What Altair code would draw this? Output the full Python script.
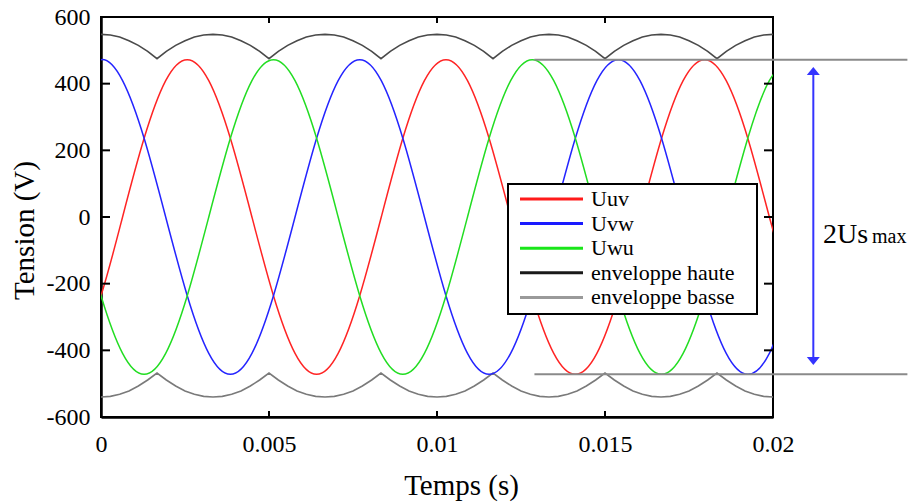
import altair as alt
import pandas as pd

# ---------------- data ----------------
# three line voltages, read every 30 deg of their ~0.0077 s period
t_sine = [-0.000642, 0.0, 0.000642, 0.001283, 0.001925, 0.002567, 0.003208, 0.00385,
          0.004492, 0.005133, 0.005775, 0.006417, 0.007058, 0.0077, 0.008342, 0.008983,
          0.009625, 0.010267, 0.010908, 0.01155, 0.012192, 0.012833, 0.013475, 0.014117,
          0.014758, 0.0154, 0.016042, 0.016683, 0.017325, 0.017967, 0.018608, 0.01925,
          0.019892, 0.020533]
uuv = [-409, -236, 0, 236, 409, 472, 409, 236, 0, -236, -409, -472, -409, -236, 0, 236, 409,
       472, 409, 236, 0, -236, -409, -472, -409, -236, 0, 236, 409, 472, 409, 236, 0, -236]
uvw = [409, 472, 409, 236, 0, -236, -409, -472, -409, -236, 0, 236, 409, 472, 409, 236, 0,
       -236, -409, -472, -409, -236, 0, 236, 409, 472, 409, 236, 0, -236, -409, -472, -409, -236]
uwu = [0, -236, -409, -472, -409, -236, 0, 236, 409, 472, 409, 236, 0, -236, -409, -472, -409,
       -236, 0, 236, 409, 472, 409, 236, 0, -236, -409, -472, -409, -236, 0, 236, 409, 472]

# envelopes
t_env = [0.0, 0.000278, 0.000556, 0.000833, 0.001111, 0.001389, 0.001667, 0.001944, 0.002222,
         0.0025, 0.002778, 0.003056, 0.003333, 0.003611, 0.003889, 0.004167, 0.004444,
         0.004722, 0.005, 0.005278, 0.005556, 0.005833, 0.006111, 0.006389, 0.006667,
         0.006944, 0.007222, 0.0075, 0.007778, 0.008056, 0.008333, 0.008611, 0.008889,
         0.009167, 0.009444, 0.009722, 0.01, 0.010278, 0.010556, 0.010833, 0.011111,
         0.011389, 0.011667, 0.011944, 0.012222, 0.0125, 0.012778, 0.013056, 0.013333,
         0.013611, 0.013889, 0.014167, 0.014444, 0.014722, 0.015, 0.015278, 0.015556,
         0.015833, 0.016111, 0.016389, 0.016667, 0.016944, 0.017222, 0.0175, 0.017778,
         0.018056, 0.018333, 0.018611, 0.018889, 0.019167, 0.019444, 0.019722, 0.02]
env_haute = [548, 546, 540, 529, 515, 497, 475, 497, 515, 529, 540, 546,
             548, 546, 540, 529, 515, 497, 475, 497, 515, 529, 540, 546,
             548, 546, 540, 529, 515, 497, 475, 497, 515, 529, 540, 546,
             548, 546, 540, 529, 515, 497, 475, 497, 515, 529, 540, 546,
             548, 546, 540, 529, 515, 497, 475, 497, 515, 529, 540, 546,
             548, 546, 540, 529, 515, 497, 475, 497, 515, 529, 540, 546,
             548]
env_basse = [-540, -538, -532, -522, -507, -489, -468, -489, -507, -522, -532, -538,
             -540, -538, -532, -522, -507, -489, -468, -489, -507, -522, -532, -538,
             -540, -538, -532, -522, -507, -489, -468, -489, -507, -522, -532, -538,
             -540, -538, -532, -522, -507, -489, -468, -489, -507, -522, -532, -538,
             -540, -538, -532, -522, -507, -489, -468, -489, -507, -522, -532, -538,
             -540, -538, -532, -522, -507, -489, -468, -489, -507, -522, -532, -538,
             -540]

series_names = ["Uuv", "Uvw", "Uwu", "enveloppe haute", "enveloppe basse"]
line_colors = ["#ff2424", "#2424ff", "#22dd22", "#4a4a4a", "#7a7a7a"]
legend_colors = ["#ff1a1a", "#1a1aff", "#1ae61a", "#1a1a1a", "#9a9a9a"]

x_ticks = [0, 0.005, 0.01, 0.015, 0.02]
y_ticks = [-600, -400, -200, 0, 200, 400, 600]

# "2Us max" annotation: peak levels, extent of the guide lines, arrow position
peak_levels = [472, -472]
guide_start, guide_end = 0.0129, 0.024
arrow_t = 0.0212
arrow_top, arrow_bottom = 438, -432

# ---------------- chart ----------------
W, H = 672, 400
SERIF = "Liberation Serif"

xscale = alt.Scale(domain=[0, 0.02], nice=False, zero=False)
yscale = alt.Scale(domain=[-600, 600], nice=False, zero=False)

x_axis = alt.Axis(values=x_ticks, format="~g", ticks=False, tickSize=0, grid=False,
                  domainColor="black", domainWidth=2.5, labelFont=SERIF, labelFontSize=24,
                  labelColor="black", labelPadding=15, labelFlush=False, labelOverlap=False,
                  title="Temps (s)", titleFont=SERIF, titleFontSize=29,
                  titleFontWeight="normal", titleColor="black", titleX=360, titleY=77,
                  titleBaseline="alphabetic", titleAlign="center")
y_axis = alt.Axis(values=y_ticks, ticks=False, tickSize=0, grid=False,
                  domainColor="black", domainWidth=2.5, labelFont=SERIF, labelFontSize=24,
                  labelColor="black", labelPadding=11, labelFlush=False, labelOverlap=False,
                  labelExpr="datum.value < 0 ? '-' + (-datum.value) : '' + datum.value",
                  title="Tension (V)", titleFont=SERIF, titleFontSize=29,
                  titleFontWeight="normal", titleColor="black", titleAngle=270,
                  titleX=-68, titleY=213, titleBaseline="alphabetic", titleAlign="center")


def X(field="t"):
    return alt.X(f"{field}:Q", scale=xscale, axis=x_axis)


def Y(field="v"):
    return alt.Y(f"{field}:Q", scale=yscale, axis=y_axis)


color_scale = alt.Scale(domain=series_names, range=line_colors)

sine_df = pd.concat([
    pd.DataFrame({"t": t_sine, "v": vals, "serie": name})
    for name, vals in zip(series_names[:3], [uuv, uvw, uwu])
])
env_df = pd.concat([
    pd.DataFrame({"t": t_env, "v": vals, "serie": name})
    for name, vals in zip(series_names[3:], [env_haute, env_basse])
])

envelopes = alt.Chart(env_df).mark_line(strokeWidth=1.6, clip=True).encode(
    x=X(), y=Y(), color=alt.Color("serie:N", scale=color_scale, legend=None),
    detail="serie:N")
sines = alt.Chart(sine_df).mark_line(strokeWidth=1.5, interpolate="natural", clip=True).encode(
    x=X(), y=Y(), color=alt.Color("serie:N", scale=color_scale, legend=None),
    detail="serie:N")

# inward ticks on the four sides of the frame
yt = pd.DataFrame({"v": y_ticks})
xt = pd.DataFrame({"t": x_ticks})
left_ticks = alt.Chart(yt).mark_rule(color="black", strokeWidth=2).encode(
    y=Y(), x=alt.value(0), x2=alt.value(9))
right_ticks = alt.Chart(yt).mark_rule(color="black", strokeWidth=2).encode(
    y=Y(), x=alt.value(W - 9), x2=alt.value(W))
bottom_ticks = alt.Chart(xt).mark_rule(color="black", strokeWidth=2).encode(
    x=X(), y=alt.value(H - 6), y2=alt.value(H))
top_ticks = alt.Chart(xt).mark_rule(color="black", strokeWidth=2).encode(
    x=X(), y=alt.value(0), y2=alt.value(6))

# legend box
one = pd.DataFrame({"k": [0]})
legend_box = alt.Chart(one).mark_rect(fill="white", stroke="black", strokeWidth=2).encode(
    x=alt.value(407), x2=alt.value(656), y=alt.value(167), y2=alt.value(297))
leg_df = pd.DataFrame({"label": series_names, "color": legend_colors,
                       "row": list(range(len(series_names)))})
leg_base = alt.Chart(leg_df).transform_calculate(ypx="182 + datum.row * 24.6")
legend_lines = leg_base.mark_rule(strokeWidth=3).encode(
    x=alt.value(419), x2=alt.value(482),
    y=alt.Y("ypx:Q", scale=None, axis=None),
    color=alt.Color("color:N", scale=None))
legend_text = leg_base.mark_text(align="left", baseline="middle", font=SERIF,
                                 fontSize=22, color="black").encode(
    x=alt.value(490), y=alt.Y("ypx:Q", scale=None, axis=None), text="label:N")

# 2Us max annotation
guide_df = pd.DataFrame({"t": [guide_start] * 2, "t2": [guide_end] * 2, "v": peak_levels})
guides = alt.Chart(guide_df).mark_rule(color="#8a8a8a", strokeWidth=2).encode(
    x=X(), x2="t2:Q", y=Y())
arrow_df = pd.DataFrame({"t": [arrow_t], "v": [arrow_bottom], "v2": [arrow_top]})
arrow = alt.Chart(arrow_df).mark_rule(color="#3434ff", strokeWidth=2).encode(
    x=X(), y=Y(), y2="v2:Q")
head_up = alt.Chart(pd.DataFrame({"t": [arrow_t], "v": [arrow_top]})).mark_point(
    shape="M0,-0.6L1,0.6L-1,0.6Z", size=170, filled=True, opacity=1, color="#3434ff").encode(
    x=X(), y=Y())
head_down = alt.Chart(pd.DataFrame({"t": [arrow_t], "v": [arrow_bottom]})).mark_point(
    shape="M0,0.6L1,-0.6L-1,-0.6Z", size=170, filled=True, opacity=1, color="#3434ff").encode(
    x=X(), y=Y())
txt_big = alt.Chart(one).mark_text(text="2Us", align="left", baseline="alphabetic",
                                   font=SERIF, fontSize=28, color="black").encode(
    x=alt.value(722), y=alt.value(226))
txt_small = alt.Chart(one).mark_text(text="max", align="left", baseline="alphabetic",
                                     font=SERIF, fontSize=20, color="black").encode(
    x=alt.value(771), y=alt.value(226))

chart = alt.layer(
    envelopes, sines, left_ticks, right_ticks, bottom_ticks, top_ticks,
    legend_box, legend_lines, legend_text, guides, arrow, head_up, head_down,
    txt_big, txt_small
).properties(
    width=W, height=H,
    autosize=alt.AutoSizeParams(type="none"),
    padding={"left": 101, "top": 17, "right": 918 - 101 - W, "bottom": 502 - 17 - H},
    background="white",
).configure_view(
    stroke="black", strokeWidth=2
).configure_axis(
    labelFont=SERIF, titleFont=SERIF, labelFontSize=24, labelColor="black"
).configure_text(font=SERIF)

chart.save("out.html", embed_options={"renderer": "svg", "actions": False})
